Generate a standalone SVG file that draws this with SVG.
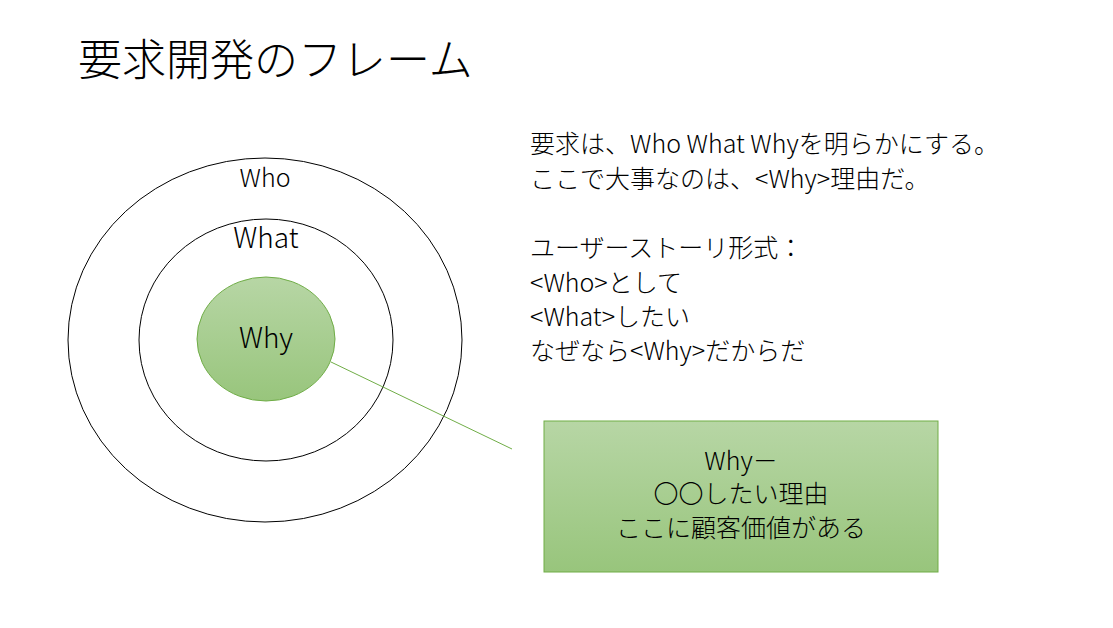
<svg xmlns="http://www.w3.org/2000/svg" width="1113" height="628" viewBox="0 0 1113 628">
<style>
text{font-family:"Noto Sans CJK JP","Noto Sans",sans-serif;font-weight:300;fill:#000}
.t{font-size:25px}
.ring{fill:none;stroke:#000;stroke-width:1}
</style>
<defs>
<linearGradient id="g" x1="0" y1="0" x2="0" y2="1">
<stop offset="0" stop-color="#b7d6a5"/><stop offset="1" stop-color="#98c57c"/>
</linearGradient>
</defs>
<rect width="1113" height="628" fill="#fff"/>
<text x="78" y="76" font-size="44">要求開発のフレーム</text>
<g id="who"><ellipse class="ring" cx="265" cy="340" rx="197" ry="182"/><text class="t" x="265" y="187" text-anchor="middle" font-size="28">Who</text></g>
<g id="what"><ellipse class="ring" cx="266" cy="340" rx="127" ry="121"/><text x="266" y="248" text-anchor="middle" font-size="28">What</text></g>
<g id="connectors"><line x1="331" y1="362" x2="512" y2="449" stroke="#70ad47" stroke-width="1"/></g>
<g id="why"><ellipse cx="266" cy="339" rx="69" ry="62" fill="url(#g)" stroke="#70ad47"/><text x="266" y="348" text-anchor="middle" font-size="28">Why</text></g>
<g id="note">
<text class="t" x="530" y="153">要求は、Who What Whyを明らかにする。</text>
<text class="t" x="530" y="188">ここで大事なのは、&lt;Why&gt;理由だ。</text>
<text class="t" x="530" y="257">ユーザーストーリ形式：</text>
<text class="t" x="530" y="292">&lt;Who&gt;として</text>
<text class="t" x="530" y="326">&lt;What&gt;したい</text>
<text class="t" x="530" y="360">なぜなら&lt;Why&gt;だからだ</text>
</g>
<g id="box"><rect x="544" y="421" width="394" height="151" fill="url(#g)" stroke="#70ad47"/>
<text class="t" x="741" y="470" text-anchor="middle">Why－</text>
<text class="t" x="741" y="503" text-anchor="middle">〇〇したい理由</text>
<text class="t" x="741" y="537" text-anchor="middle">ここに顧客価値がある</text>
</g>
</svg>
